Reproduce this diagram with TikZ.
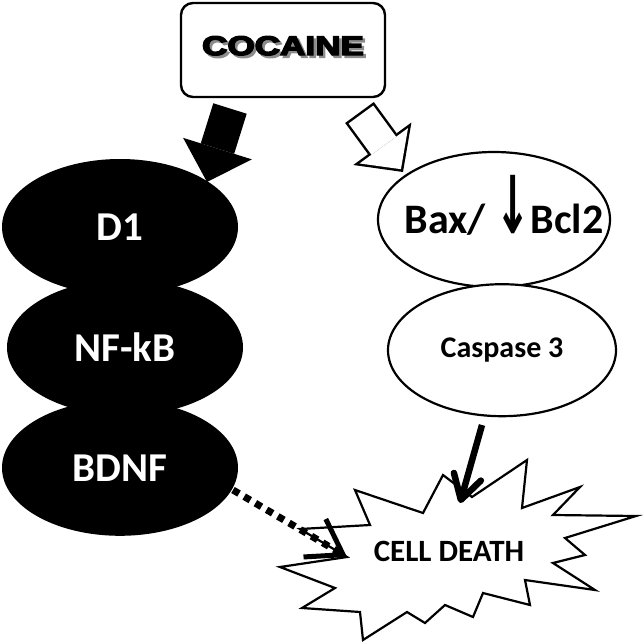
\documentclass[tikz,border=0pt]{standalone}
\usepackage{fontspec}
\setmainfont{Carlito}
\newfontfamily\heavyfont{Liberation Sans}[BoldFeatures={FakeBold=5}]
\newfontfamily\arrowfont{DejaVu Sans}
\usetikzlibrary{positioning, arrows.meta, shapes.geometric}

\begin{document}
\begin{tikzpicture}[x=1pt, y=-1pt, node distance=-16pt,
  blob/.style={ellipse, fill=black, text=white, minimum width=236pt, minimum height=136pt, inner sep=0pt, font=\bfseries\fontsize{41}{41}\selectfont},
  oval/.style={ellipse, draw, line width=2.2pt, fill=white, minimum width=232pt, minimum height=135pt, inner sep=0pt, font=\bfseries\fontsize{42}{42}\selectfont},
  cocfont/.style={font=\heavyfont\bfseries\fontsize{27}{27}\selectfont}]
  \useasboundingbox (0,0) rectangle (643,643);

  \node[draw, line width=2.4pt, rounded corners=12pt, minimum width=204pt, minimum height=94pt] (coc) at (283,50) {};
  \node[cocfont] (cocname) at (283,47) {\makebox[0pt][l]{\hspace*{2.5pt}\raisebox{-2.5pt}{\textcolor{black!45}{\scalebox{1.3}[1]{COCAINE}}}}\scalebox{1.3}[1]{COCAINE}};

  \node[blob] (d1) at (120,227) {D1};
  \node[blob] (nfkb) [below=of d1, xshift=5pt] {NF-kB};
  \node[blob] (bdnf) [below=of nfkb, xshift=-5pt] {BDNF};

  \node[oval] (bax) at (494,219.5) {\makebox[0pt]{\hspace*{20pt}\raisebox{-13.5pt}[0pt][0pt]{Bax/ {\arrowfont\bfseries\scalebox{1.0}[1.9]{↓}}Bcl2}}};
  \node[oval, minimum width=228pt, minimum height=132pt, font=\bfseries\fontsize{30}{30}\selectfont] (casp) [below=-5pt of bax, xshift=8pt] {Caspase 3};

  \draw[line width=2.2pt, fill=white] (355,490) -- (370,525) -- (300,529) -- (347,557) -- (280,567) -- (335,588) -- (302,608) -- (360,612) -- (363,640) -- (407,612) -- (425,623) -- (445,605) -- (473,617) -- (483,593) -- (530,605) -- (525,580) -- (595,590) -- (553,563) -- (585,555) -- (565,538) -- (636,516) -- (553,515) -- (580,487) -- (522,508) -- (527,460) -- (472,497) -- (443,475) -- (423,513) -- cycle;
  \node[font=\bfseries\fontsize{31}{31}\selectfont] (death) at (449,551) {CELL DEATH};

  \coordinate (blkfrom) at (230,108.5);
  \coordinate (blkto) at (207,182);
  \coordinate (opnfrom) at (359.5,112.5);
  \coordinate (opnto) at (403,172);
  \coordinate (caspfrom) at (482,425);
  \coordinate (caspto) at (460,503);
  \coordinate (dotfrom) at (233,490);
  \coordinate (dotto) at (347,557);

  \draw[line width=35pt, -{Triangle[length=35pt, width=72pt, line width=0pt]}] (blkfrom) -- (blkto);
  \draw[line width=35.5pt, -{Triangle[length=35pt, width=72pt, line width=0pt]}] (opnfrom) -- (opnto);
  \draw[white, line width=30.5pt, shorten <=2.5pt, shorten >=3.5pt, -{Triangle[length=29pt, width=60pt, line width=0pt]}] (opnfrom) -- (opnto);
  \draw[line width=6.5pt, -{Straight Barb[length=24pt, width=28pt, round]}] (caspfrom) -- (caspto);
  \draw[line width=7pt, dash pattern=on 7pt off 6pt, -{Straight Barb[length=33pt, width=44pt, line width=5pt]}] (dotfrom) -- (dotto);
\end{tikzpicture}
\end{document}
